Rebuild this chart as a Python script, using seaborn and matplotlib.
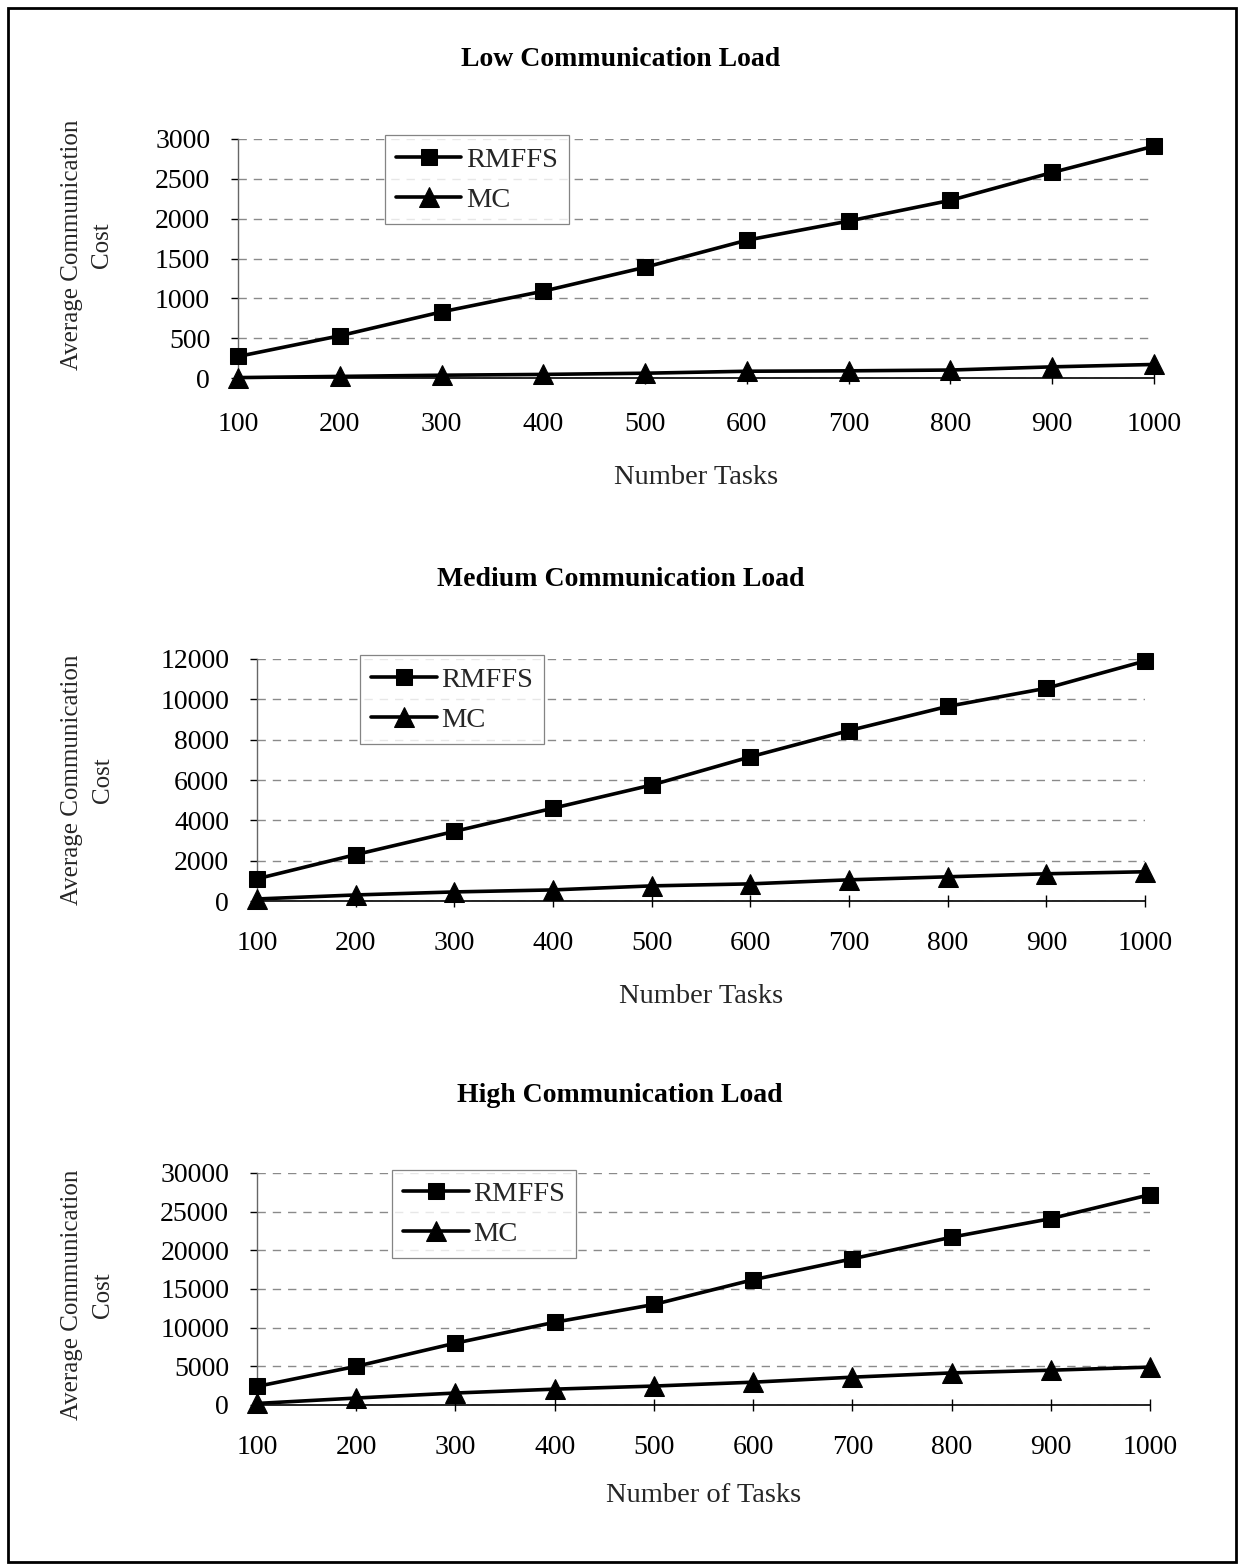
import matplotlib
matplotlib.use("Agg")
import matplotlib.pyplot as plt
from matplotlib.patches import Rectangle
import pandas as pd
import seaborn as sns

# Number of tasks on the x axis
tasks = [100, 200, 300, 400, 500, 600, 700, 800, 900, 1000]
series_names = ["RMFFS", "MC"]

# Average communication cost per load level
low_rmffs = [270, 530, 830, 1090, 1390, 1730, 1970, 2230, 2580, 2910]
low_mc = [5, 20, 35, 45, 60, 85, 90, 100, 140, 170]

medium_rmffs = [1100, 2300, 3450, 4600, 5750, 7150, 8450, 9650, 10550, 11900]
medium_mc = [100, 300, 450, 550, 750, 850, 1050, 1200, 1350, 1450]

high_rmffs = [2400, 5000, 8000, 10700, 13000, 16200, 18900, 21700, 24100, 27200]
high_mc = [200, 900, 1550, 2050, 2450, 2950, 3600, 4150, 4500, 4900]

titles = ["Low Communication Load", "Medium Communication Load", "High Communication Load"]
xlabels = ["Number Tasks", "Number Tasks", "Number of Tasks"]
ylabel = "Average Communication\nCost"
low_yticks = [0, 500, 1000, 1500, 2000, 2500, 3000]
medium_yticks = [0, 2000, 4000, 6000, 8000, 10000, 12000]
high_yticks = [0, 5000, 10000, 15000, 20000, 25000, 30000]

sns.set_theme(style="white")
plt.rcParams["font.family"] = ["Liberation Serif", "DejaVu Serif"]

W, H = 1243, 1566
fig = plt.figure(figsize=(W / 100, H / 100), dpi=100)
fig.patch.set_facecolor("white")


def px_axes(left, right, top, bottom):
    return [left / W, 1 - bottom / H, (right - left) / W, (bottom - top) / H]


panels = [
    dict(rect=px_axes(238, 1154, 139, 378), rm=low_rmffs, mc=low_mc, yticks=low_yticks,
         title_y=59, leg_x=0.16, ylab=(-0.165, 0.556), xlab_y=-0.418, xpad=20),
    dict(rect=px_axes(257, 1145, 659, 901), rm=medium_rmffs, mc=medium_mc, yticks=medium_yticks,
         title_y=579, leg_x=0.116, ylab=(-0.191, 0.50), xlab_y=-0.393, xpad=17),
    dict(rect=px_axes(257, 1150, 1173, 1405), rm=high_rmffs, mc=high_mc, yticks=high_yticks,
         title_y=1095, leg_x=0.151, ylab=(-0.19, 0.474), xlab_y=-0.392, xpad=17),
]

for i, p in enumerate(panels):
    ax = fig.add_axes(p["rect"])
    df = pd.DataFrame({
        "Tasks": tasks * 2,
        "Cost": p["rm"] + p["mc"],
        "Series": [series_names[0]] * len(tasks) + [series_names[1]] * len(tasks),
    })
    sns.lineplot(
        data=df, x="Tasks", y="Cost", hue="Series", style="Series",
        hue_order=series_names, style_order=series_names,
        markers={"RMFFS": "s", "MC": "^"}, dashes=False,
        palette={"RMFFS": "black", "MC": "black"},
        markersize=12, markeredgecolor="black", linewidth=2.6,
        legend=False, ax=ax,
    )
    for ln in ax.lines:
        ln.set_clip_on(False)
        ln.set_zorder(5)
    # triangles read a little larger than the squares
    ax.lines[1].set_markersize(14)

    ax.set_xlim(tasks[0], tasks[-1])
    ax.set_ylim(p["yticks"][0], p["yticks"][-1])
    ax.set_xticks(tasks)
    ax.set_yticks(p["yticks"])
    ax.set_xticklabels([str(t) for t in tasks])
    ax.set_yticklabels([str(t) for t in p["yticks"]])

    ax.yaxis.grid(True, linestyle=(0, (6, 5)), color="#8a8a8a", linewidth=1.0)
    ax.xaxis.grid(False)
    ax.set_axisbelow(True)

    for side in ("top", "right"):
        ax.spines[side].set_visible(False)
    ax.spines["left"].set_color("#666666")
    ax.spines["left"].set_linewidth(1.0)
    ax.spines["bottom"].set_color("black")
    ax.spines["bottom"].set_linewidth(1.2)

    ax.tick_params(axis="x", direction="inout", length=9, width=1, pad=p["xpad"],
                   labelsize=20, colors="black", bottom=True)
    ax.tick_params(axis="y", direction="out", length=5, width=1, pad=15,
                   labelsize=20, colors="black", left=True)

    ax.set_xlabel(xlabels[i], fontsize=20.5, va="center", ha="center")
    ax.xaxis.set_label_coords(0.5, p["xlab_y"])
    ax.set_ylabel(ylabel, fontsize=18, va="center", ha="center", linespacing=1.5)
    ax.yaxis.set_label_coords(*p["ylab"])

    leg = ax.legend(ax.lines[:2], series_names, loc="upper left",
                    bbox_to_anchor=(p["leg_x"], 1.015), frameon=True, fancybox=False,
                    fontsize=20.5, handlelength=2.3, handletextpad=0.15,
                    borderpad=0.4, labelspacing=0.5, borderaxespad=0)
    leg.get_frame().set_edgecolor("#666666")
    leg.get_frame().set_linewidth(0.9)
    leg.set_zorder(10)

    fig.text(0.499, 1 - (p["title_y"] + 1) / H, titles[i], ha="center", va="center",
             fontsize=20, fontweight="bold", color="black")

# Outer frame around the whole figure
fig.patches.append(Rectangle((8 / W, 4 / H), (1236 - 8) / W, (1558 - 4) / H,
                             transform=fig.transFigure, fill=False,
                             edgecolor="black", linewidth=2))

fig.savefig("out.png", dpi=100, facecolor="white")
